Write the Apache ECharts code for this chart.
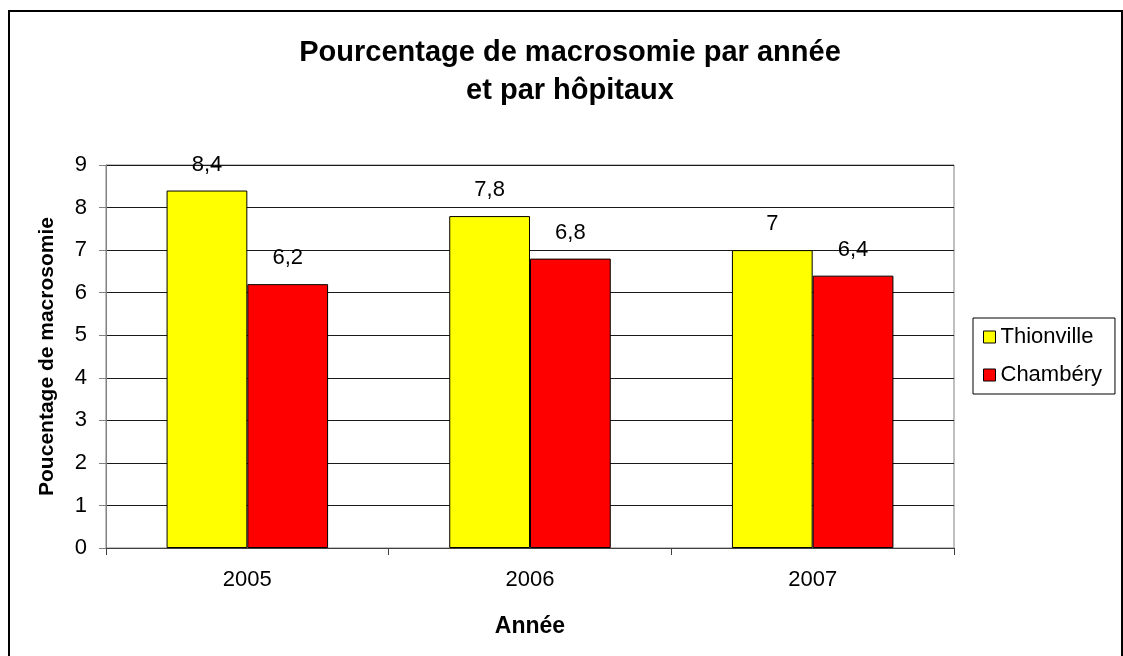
<!DOCTYPE html>
<html>
<head>
<meta charset="utf-8">
<script src="https://cdn.jsdelivr.net/npm/echarts@6/dist/echarts.min.js"></script>
<style>
  html, body { margin: 0; padding: 0; background: #fff; }
  #chart { width: 1123px; height: 656px; }
</style>
</head>
<body>
<div id="chart"></div>
<script>
const years = ['2005', '2006', '2007'];
const thionville = [8.4, 7.8, 7];
const chambery = [6.2, 6.8, 6.4];
const yTicks = [0, 9, 1]; // min, max, interval

const font = "'Liberation Sans', Arial, sans-serif";

function comma(p) {
    return String(p.value).replace('.', ',');
}

const chart = echarts.init(document.getElementById('chart'));

chart.setOption({
    animation: false,
    backgroundColor: '#fff',
    textStyle: { fontFamily: font, color: '#000' },
    title: {
        text: 'Pourcentage de macrosomie par année\net par hôpitaux',
        left: 565,
        textAlign: 'center',
        top: 29,
        textStyle: { fontFamily: font, fontSize: 29, fontWeight: 'bold', lineHeight: 38, color: '#000' }
    },
    legend: {
        orient: 'vertical',
        left: 973,
        top: 318,
        padding: [8, 13, 8, 10],
        itemGap: 16,
        itemWidth: 12,
        itemHeight: 12,
        borderColor: '#000',
        borderWidth: 1,
        icon: 'rect',
        itemStyle: { borderColor: '#000', borderWidth: 1 },
        textStyle: { fontFamily: font, fontSize: 22, color: '#000' },
        data: ['Thionville', 'Chambéry']
    },
    grid: {
        left: 106, top: 165, width: 848, height: 383,
        show: true,
        borderColor: '#808080',
        borderWidth: 1
    },
    xAxis: {
        type: 'category',
        data: years,
        name: 'Année',
        nameLocation: 'middle',
        nameGap: 67,
        nameTextStyle: { fontFamily: font, fontSize: 23, fontWeight: 'bold', color: '#000' },
        axisLine: { lineStyle: { color: '#404040', width: 1 } },
        axisTick: { show: true, length: 7, lineStyle: { color: '#404040' } },
        axisLabel: { fontFamily: font, fontSize: 22, color: '#000', margin: 21 }
    },
    yAxis: {
        type: 'value',
        min: yTicks[0],
        max: yTicks[1],
        interval: yTicks[2],
        name: 'Poucentage de macrosomie',
        nameLocation: 'middle',
        nameGap: 48,
        nameTextStyle: { fontFamily: font, fontSize: 21, fontWeight: 'bold', color: '#000' },
        axisLine: { show: true, lineStyle: { color: '#808080', width: 1 } },
        axisTick: { show: true, length: 7, lineStyle: { color: '#808080' } },
        axisLabel: { fontFamily: font, fontSize: 22, color: '#000', margin: 19 },
        splitLine: { lineStyle: { color: '#1a1a1a', width: 1 } }
    },
    series: [
        {
            name: 'Thionville',
            type: 'bar',
            data: thionville,
            barGap: '0%',
            barCategoryGap: '42.86%',
            itemStyle: { color: '#FFFF00', borderColor: '#000', borderWidth: 1 },
            label: { show: true, position: 'top', distance: 15, fontFamily: font, fontSize: 22, color: '#000', formatter: comma }
        },
        {
            name: 'Chambéry',
            type: 'bar',
            data: chambery,
            barGap: '0%',
            barCategoryGap: '42.86%',
            itemStyle: { color: '#FF0000', borderColor: '#000', borderWidth: 1 },
            label: { show: true, position: 'top', distance: 15, fontFamily: font, fontSize: 22, color: '#000', formatter: comma }
        }
    ],
    graphic: [
        {
            type: 'rect',
            shape: { x: 9, y: 11, width: 1113, height: 660 },
            style: { fill: 'none', stroke: '#000', lineWidth: 2 },
            silent: true
        }
    ]
});
</script>
</body>
</html>
